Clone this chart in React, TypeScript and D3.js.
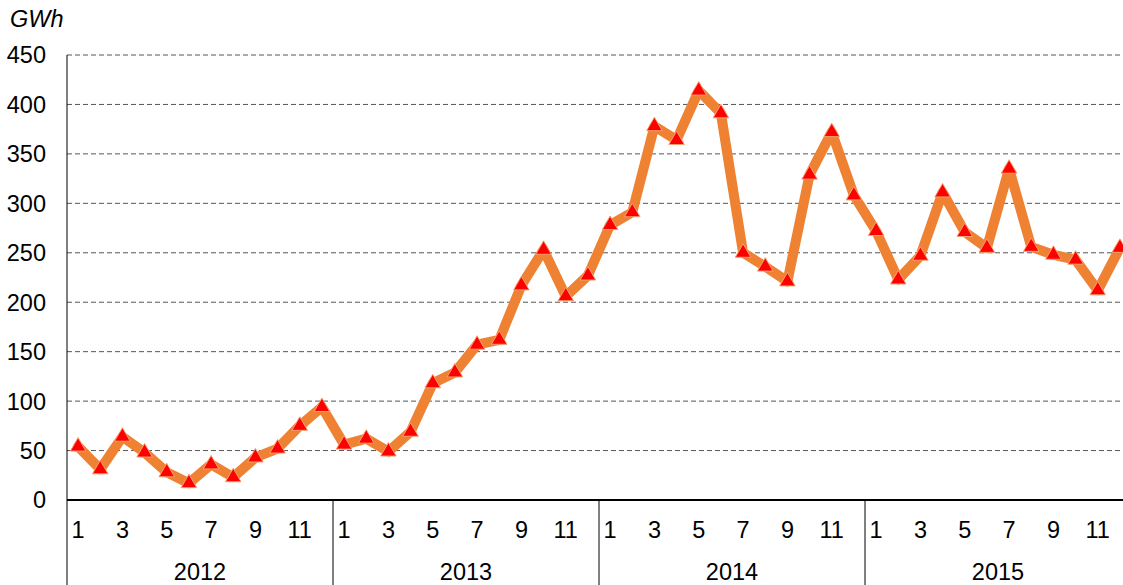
import React from "react";
import * as d3 from "d3";

const years = ["2012", "2013", "2014", "2015"];
const monthLabels = ["1", "", "3", "", "5", "", "7", "", "9", "", "11", ""];
const yTicks = [0, 50, 100, 150, 200, 250, 300, 350, 400, 450];
const values2012 = [54, 31, 64, 48, 28, 17, 36, 23, 43, 52, 75, 94];
const values2013 = [56, 62, 49, 69, 118, 129, 157, 162, 217, 253, 206, 227];
const values2014 = [278, 291, 378, 364, 414, 391, 250, 236, 221, 329, 372, 308];
const values2015 = [272, 223, 247, 311, 271, 255, 335, 256, 248, 243, 212, 255];

const W = 1123;
const H = 585;
const left = 67;
const yearWidth = 266;
const top = 55;
const bottom = 500;

export default function App() {
  const values = [...values2012, ...values2013, ...values2014, ...values2015];
  const n = values.length;
  const x = d3.scaleLinear().domain([0, n]).range([left, left + yearWidth * years.length]);
  const y = d3.scaleLinear().domain([0, 450]).range([bottom, top]);
  const line = d3
    .line<number>()
    .x((_, i) => x(i + 0.5))
    .y((d) => y(d));
  const tri = d3.symbol().type(d3.symbolTriangle).size(105)();
  const font = "'Liberation Sans', Arial, sans-serif";
  const fs = 23.5;

  return (
    <svg
      width={W}
      height={H}
      style={{ position: "absolute", left: 0, top: 0, background: "#fff" }}
      fontFamily={font}
    >
      <text x={10} y={27} fontSize={fs} fontStyle="italic" fill="#000">
        GWh
      </text>
      {yTicks.map((t) => (
        <g key={t}>
          {t > 0 && (
            <line
              x1={left}
              x2={W}
              y1={y(t)}
              y2={y(t)}
              stroke="#555"
              strokeWidth={1}
              strokeDasharray="5,3"
            />
          )}
          <text x={46} y={y(t)} dy="0.36em" textAnchor="end" fontSize={fs} fill="#000">
            {t}
          </text>
        </g>
      ))}
      <line x1={left} x2={left} y1={top} y2={bottom} stroke="#000" strokeWidth={1} />
      {years.map((yr, yi) => (
        <g key={yr}>
          <line
            x1={x(yi * 12)}
            x2={x(yi * 12)}
            y1={bottom}
            y2={H}
            stroke="#000"
            strokeWidth={1}
          />
          {monthLabels.map((m, mi) =>
            m ? (
              <text
                key={mi}
                x={x(yi * 12 + mi + 0.5)}
                y={538}
                textAnchor="middle"
                fontSize={fs}
                fill="#000"
              >
                {m}
              </text>
            ) : null
          )}
          <text x={x(yi * 12 + 6)} y={580} textAnchor="middle" fontSize={fs} fill="#000">
            {yr}
          </text>
        </g>
      ))}
      <line x1={left} x2={W} y1={bottom} y2={bottom} stroke="#000" strokeWidth={2} />
      <path
        d={line(values) || ""}
        fill="none"
        stroke="#EF8133"
        strokeWidth={10}
        strokeLinejoin="round"
        strokeLinecap="round"
      />
      {values.map((v, i) => (
        <path
          key={i}
          d={tri || ""}
          transform={`translate(${x(i + 0.5)},${y(v)})`}
          fill="#FF0000"
          stroke="#F7A070"
          strokeWidth={1}
        />
      ))}
    </svg>
  );
}
